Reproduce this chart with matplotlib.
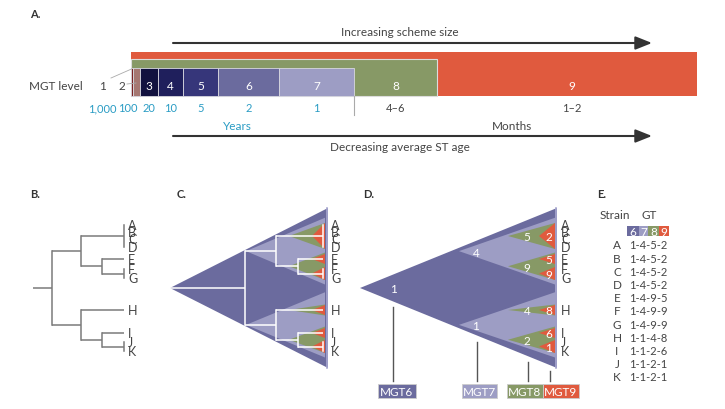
import matplotlib
matplotlib.use('Agg')
import matplotlib.pyplot as plt
from matplotlib.patches import Rectangle, Polygon

plt.rcParams['font.family'] = ['Lato', 'DejaVu Sans']

# ---- datos ----
mgt_levels = ['1', '2', '3', '4', '5', '6', '7', '8', '9']
level_ages = ['1,000', '100', '20', '10', '5', '2', '1', '4–6', '1–2']
strains = ['A', 'B', 'C', 'D', 'E', 'F', 'G', 'H', 'I', 'J', 'K']
strain_gt = ['1-4-5-2', '1-4-5-2', '1-4-5-2', '1-4-5-2', '1-4-9-5', '1-4-9-9',
             '1-4-9-9', '1-1-4-8', '1-1-2-6', '1-1-2-1', '1-1-2-1']
gt_schemes = ['MGT6', 'MGT7', 'MGT8', 'MGT9']

# ---- estilo / posiciones ----
GRIS = '#444444'
TEAL = '#2a9cc4'
level_colors = ['#7b2323', '#a57772', '#11113f', '#1f1f5c', '#36367a',
                '#6b6b9e', '#9d9dc4', '#879966', '#e05a3e']
gt_colors = level_colors[5:]
level_edges = [131.5, 133, 140, 158, 183, 218, 279, 354, 437, 697]
strain_y = [226, 233, 240, 248, 260, 270, 279, 311, 334, 343, 352]


def claves(n):
    res = []
    for g in strain_gt:
        k = tuple(g.split('-')[:n])
        if k not in res:
            res.append(k)
    return res


def miembros(key):
    return [i for i, g in enumerate(strain_gt) if tuple(g.split('-')[:len(key)]) == key]


def hijos(key):
    return [k for k in claves(len(key) + 1) if k[:len(key)] == key]


def centro(key):
    if len(key) == 4:
        ys = [strain_y[i] for i in miembros(key)]
        return (min(ys) + max(ys)) / 2
    cs = [centro(h) for h in hijos(key)]
    return (min(cs) + max(cs)) / 2


def arbol(ax, key, x_from, xs, color, lw):
    c = centro(key)
    n = len(key)
    if n == 4:
        ax.plot([x_from, xs[3]], [c, c], color=color, lw=lw, solid_capstyle='butt')
        ys = [strain_y[i] for i in miembros(key)]
        if len(ys) > 1:
            ax.plot([xs[3], xs[3]], [min(ys), max(ys)], color=color, lw=lw)
        return
    hs = hijos(key)
    if len(hs) == 1:
        arbol(ax, hs[0], x_from, xs, color, lw)
        return
    ax.plot([x_from, xs[n - 1]], [c, c], color=color, lw=lw, solid_capstyle='butt')
    cs = [centro(h) for h in hs]
    ax.plot([xs[n - 1], xs[n - 1]], [min(cs), max(cs)], color=color, lw=lw)
    for h in hs:
        arbol(ax, h, xs[n - 1], xs, color, lw)


def triangulos(ax, apex, right, pads, minh):
    for n in range(1, 5):
        for key in claves(n):
            c = centro(key)
            ys = [strain_y[i] for i in miembros(key)]
            half = max(abs(y - c) for y in ys) + pads[n - 1]
            half = max(half, minh[n - 1])
            ax.add_patch(Polygon([(apex[n - 1], c), (right[n - 1], c - half),
                                  (right[n - 1], c + half)], closed=True,
                                 facecolor=gt_colors[n - 1], edgecolor='none'))


def letras(ax, x):
    for s, y in zip(strains, strain_y):
        ax.text(x, y, s, fontsize=9, color=GRIS, ha='left', va='center')


fig = plt.figure(figsize=(7.25, 4.1), dpi=100)
ax = fig.add_axes([0, 0, 1, 1])
ax.set_xlim(0, 725)
ax.set_ylim(410, 0)
ax.axis('off')

# ---- A ----
ax.text(30, 15, 'A.', fontsize=8, fontweight='bold', color='#333333', va='center')
ax.text(400, 32, 'Increasing scheme size', fontsize=8.5, color=GRIS, ha='center', va='center')
ax.annotate('', xy=(652, 44), xytext=(173, 44),
            arrowprops=dict(arrowstyle='-|>,head_length=1.0,head_width=0.4', color='#333333',
                            lw=1.5, shrinkA=0, shrinkB=0, mutation_scale=10))
ax.text(400, 148, 'Decreasing average ST age', fontsize=8.5, color=GRIS, ha='center', va='center')
ax.annotate('', xy=(652, 137), xytext=(173, 137),
            arrowprops=dict(arrowstyle='-|>,head_length=1.0,head_width=0.4', color='#333333',
                            lw=1.5, shrinkA=0, shrinkB=0, mutation_scale=10))

ax.add_patch(Rectangle((level_edges[0], 53), level_edges[9] - level_edges[0], 44,
                       facecolor=level_colors[8], edgecolor='none'))
ax.add_patch(Rectangle((level_edges[0], 60), level_edges[8] - level_edges[0], 37,
                       facecolor=level_colors[7], edgecolor='#dcdcdc', lw=0.8))
for i in range(7):
    ax.add_patch(Rectangle((level_edges[i], 69), level_edges[i + 1] - level_edges[i], 28,
                           facecolor=level_colors[i], edgecolor='#d8d8e0', lw=0.6))

ax.text(29, 87, 'MGT level', fontsize=8.5, color=GRIS, va='center')
num_x = [(level_edges[i] + level_edges[i + 1]) / 2 for i in range(9)]
num_x[0] = 103
num_x[1] = 122
num_x[8] = 572
age_x = list(num_x)
age_x[0] = 102
age_x[1] = 128
for i in range(9):
    col = GRIS if i < 2 else 'white'
    ax.text(num_x[i], 87, mgt_levels[i], fontsize=8.5, color=col, ha='center', va='center')
    ac = TEAL if i < 7 else GRIS
    ax.text(age_x[i], 109, level_ages[i], fontsize=8, color=ac, ha='center', va='center')
ax.plot([111, 131.5], [79, 70], color='#aaaaaa', lw=0.6)
ax.plot([127, 136], [85, 84], color='#aaaaaa', lw=0.6)
ax.plot([354, 354], [97, 116], color='#aaaaaa', lw=0.8)
ax.text(237, 126, 'Years', fontsize=8.5, color=TEAL, ha='center', va='center')
ax.text(512, 126, 'Months', fontsize=8.5, color=GRIS, ha='center', va='center')

# ---- B ----
ax.text(30, 195, 'B.', fontsize=8, fontweight='bold', color='#333333', va='center')
arbol(ax, claves(1)[0], 33, [52, 81, 102, 124], '#7a7a7a', 1.1)
letras(ax, 128)

# ---- C ----
ax.text(177, 195, 'C.', fontsize=8, fontweight='bold', color='#333333', va='center')
triangulos(ax, [170, 246, 289, 312], [328, 325, 325, 325], [17, 6.5, 2, 2], [0, 0, 5.5, 5])
ax.plot([327.5, 327.5], [209, 369], color='#a8a8d0', lw=1.2)
arbol(ax, claves(1)[0], 170, [245, 276, 298, 323], 'white', 1.1)
letras(ax, 331)

# ---- D ----
ax.text(363, 195, 'D.', fontsize=8, fontweight='bold', color='#333333', va='center')
apex_d = [360, 459, 508, 539]
triangulos(ax, apex_d, [557, 555, 555, 555], [17, 6.5, 2, 2], [0, 0, 5.5, 5])
ax.plot([556.5, 556.5], [209, 369], color='#a8a8d0', lw=1.2)
txt_dx = [34, 17, 19, 10]
for n in range(1, 5):
    for key in claves(n):
        ax.text(apex_d[n - 1] + txt_dx[n - 1], centro(key) + 1, key[-1], fontsize=8.5,
                color='white', ha='center', va='center')
letras(ax, 561)

# lineas a las cajas
root_c = centro(claves(1)[0])
bottom = root_c + 80
line_x = [393, 477, 528, 550]
box_l = [378, 462, 507, 543]
box_r = [416, 497, 543, 579]
for j in range(4):
    y_edge = root_c + (bottom - root_c) * (line_x[j] - apex_d[0]) / (557 - apex_d[0])
    ax.plot([line_x[j], line_x[j]], [y_edge + 6, 382], color='#555555', lw=1)
    ax.add_patch(Rectangle((box_l[j], 385), box_r[j] - box_l[j], 14,
                           facecolor=gt_colors[j], edgecolor='#cccccc', lw=0.6))
    ax.text((box_l[j] + box_r[j]) / 2, 392.5, gt_schemes[j], fontsize=8.5, color='white',
            ha='center', va='center')

# ---- E ----
ax.text(597, 195, 'E.', fontsize=8, fontweight='bold', color='#333333', va='center')
ax.text(615, 216, 'Strain', fontsize=8.5, color=GRIS, ha='center', va='center')
ax.text(649, 216, 'GT', fontsize=8.5, color=GRIS, ha='center', va='center')
hdr = [627, 639, 648, 659, 669]
for j in range(4):
    ax.add_patch(Rectangle((hdr[j], 227), hdr[j + 1] - hdr[j], 10, facecolor=gt_colors[j],
                           edgecolor='none'))
    ax.text((hdr[j] + hdr[j + 1]) / 2, 232.5, gt_schemes[j][-1], fontsize=8.5, color='white',
            ha='center', va='center')
for i in range(len(strains)):
    y = 246 + i * 13.2
    ax.text(617, y, strains[i], fontsize=8.5, color=GRIS, ha='center', va='center')
    ax.text(648, y, strain_gt[i], fontsize=8, color=GRIS, ha='center', va='center')

fig.savefig('out.png', dpi=100)
